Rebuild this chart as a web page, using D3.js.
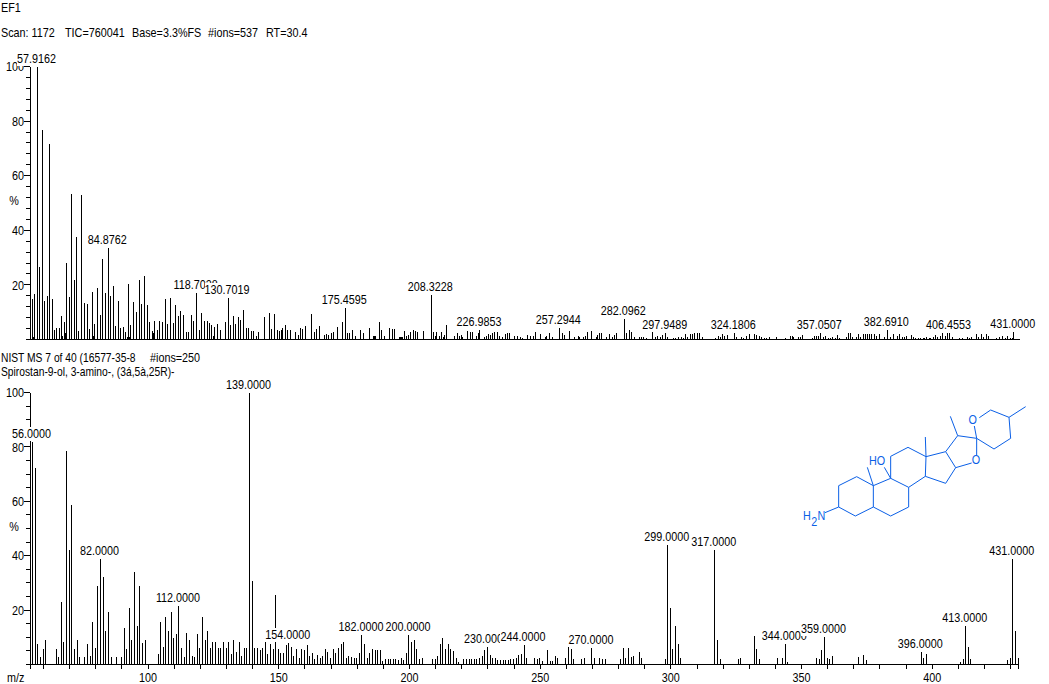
<!DOCTYPE html>
<html>
<head>
<meta charset="utf-8">
<script src="https://cdn.jsdelivr.net/npm/d3@7"></script>
<style>
html,body{margin:0;padding:0;background:#fff;overflow:hidden}
svg{display:block}
text{font-family:"Liberation Sans",Arial,sans-serif;font-size:13px;fill:#000}
</style>
</head>
<body>
<svg id="c" width="1049" height="684"></svg>
<script>
// Upper spectrum: measured scan
const topMz = [
55.9,56.3,56.7,57.9162,58.6,59.7,60.5,61.6,62.4,63.5,64.3,65.2,66.2,67,68.1,68.9,70,70.8,71.9,72.7,73.5,74.6,75.9,76.9,77.7,78.8,79.6,80.7,81.9,82.7,83.8,84.8762,
85.7,86.9,87.6,88.8,89.5,90.7,91.4,92.6,93.4,94.5,95.6,96.8,97.6,98.7,99.9,100.6,101.8,102.5,103.7,104.4,105.6,106.7,107.5,108.6,109.8,110.6,111.7,112.5,113.6,114.8,115.5,116.7,117.4,118.7028,
119.7,120.5,121.6,122.8,123.6,124.3,125.5,126.6,127.8,129.8,130.7019,131.6,132.7,133.5,134.6,135.4,136.5,137.7,138.5,139.6,140.4,141.5,142.3,
60.7,62.6,67.4,68.5,79.2,92.1,93,102.1,125.1,141.7,
144.6,146.5,147.3,148.4,149.5,150.3,151.1,151.5,152.6,153.4,154.5,156.4,157.6,158.3,159.1,160.2,162.5,163.7,164.5,165.6,167.5,168.3,169,170.2,171,172.5,174.4,175.4595,176.3,177.1,178.2,179.4,181.3,182.4,184.7,186.2,186.6,187,188.5,189.3,190.4,192.4,193.5,194.3,196.2,196.6,197,197.3,198.1,198.9,199.6,200.4,201.5,202.3,203,205.4,208.3228,
209.2,209.9,210.3,211.5,212.2,213,213.4,214.1,217.2,218.4,219.1,219.9,220.3,222.2,223.3,224.1,225.6,226.4,226.9853,228.7,229.4,230.2,231,231.7,232.5,233.6,234.4,235.6,236.7,237.5,238.2,240.1,241.3,242.4,243.2,245.1,246.3,247.4,248.2,250.1,252,252.4,253.5,254.7,257.2944,258.5,259.3,261.2,263.1,264.6,265,266.5,267.3,268,269.6,271.5,271.9,272.6,273.4,275.3,276.5,277.6,278.4,279.1,282.0962,283,284.1,284.9,286,287.9,288.7,289.5,290.6,
292.9,294,294.8,296,296.7,297.9489,298.6,300.9,301.7,302.8,304,304.7,305.5,306.3,307.4,308.2,308.9,310.1,310.9,312,314.3,315.1,316.2,317,318.1,318.9,319.7,320.4,321.6,324.1806,324.9,326.9,327.7,328.8,330,331.9,332.6,333.8,334.6,335.7,336.5,337.6,338.4,340.3,341.1,
342.5,343.6,345.5,346.3,347,348.6,349.3,350.1,353.9,354.7,355.5,356.2,357.0507,358.1,358.9,360,360.8,361.6,362.7,363.5,364.3,366.9,367.7,368.5,369.2,370.8,371.5,372.3,373.4,374.2,375,375.7,376.5,377.6,378.4,379.5,381.5,382.691,383.7,384.9,386.4,387.2,388.3,389.1,389.9,
391.8,392.5,393.3,394.5,395.2,396.4,396.8,397.5,398.7,399.1,400.2,401,401.7,402.9,403.6,404.8,405.5,406.4553,407.5,410.1,411.3,412.4,413.2,414,414.7,416.6,417.4,418.5,419.3,420.5,421.2,424.3,425.4,426.6,427.7,428.5,429.6,430.4,431
];
const topPct = [
15.2,1.2,16.8,100,26.8,77,14.4,16.2,71.7,15,3.8,4.4,4.4,8.9,6.7,28.2,15.6,53.4,22,37.8,3.4,53.2,13.7,13.3,4,17.7,5.9,19.1,9.3,29.6,17.3,33.7,
16.3,19.9,5.2,14.4,4.4,4.9,3,20.6,5.6,14,10.4,22,13.3,23.5,12.9,6.7,3.4,7,3.8,7,6.7,15,5.9,15.5,6.3,12.9,8.9,10.7,9.3,3,3,9.3,7,17.3,
3.8,10,7,7,6.3,5.6,4.9,6,3.8,6.7,15.5,5.6,8.9,6,8.5,7.4,11.1,4.5,4.5,3.4,3.4,1.6,3,
1,1,1.5,2.4,1.5,1,1,2.5,1.5,1,
8.5,10,4.1,9.6,3.8,3.4,3.8,4.5,5.6,3.8,3.8,3,2,4.5,4.1,5.2,9.6,3,4.1,5.2,2,2.3,2,2.7,3,4.9,6.7,11.8,2.7,2.7,3.8,1.6,3.8,2.7,4.5,1.6,1.6,1.6,6.7,3.8,1.6,4.5,4.1,4.1,1,1,1,1.2,3.4,1.6,2,3,3.8,3.4,3,3.4,16.6,
3,1.6,3,1.6,3,1.2,2,5.6,1.6,2.7,1.6,2,1.2,3.4,3,3,1.6,2.7,3.8,1.2,1.6,2.3,2,2.7,3,3,1.6,1.2,2.3,2.7,2.7,1.6,1.6,1.2,0.8,2,1.6,1.6,3,2.3,1.2,1.6,2.7,1.2,4.5,2.7,2,3.4,1.2,1.6,1.2,1.2,1.6,3,3.4,1.2,2,2.7,2.7,1.2,2.2,1.2,2,2.7,7.8,2.7,3.8,3,1.2,1,1.2,1.2,0.8,
2.9,1.1,1.5,1.1,1.8,2.7,1.1,0.7,0.7,1.1,1.1,0.7,2.2,1.1,2.2,2.2,2.6,2.6,2.6,1.1,0.4,0.4,0.4,0.7,1.5,1.1,2.2,1.5,1.8,2.6,1.1,1.1,0.7,1.5,2.2,2.2,1.8,1.5,1.1,0.7,0.7,1.1,0.4,1.1,0.4,
0.4,0.7,1.5,1.5,1.1,1.1,1.1,1.8,0.7,1.5,1.5,1.5,2.4,1.1,1.5,0.7,0.7,1.1,0.7,1.8,0.7,1.1,2.4,2.4,1.1,1.1,2.2,1.1,2.2,2.2,2.2,2.2,2.2,2.2,1.5,2.2,1.1,3.8,1.1,2.2,1.5,2.2,1.1,1.1,1.5,
1.8,1.1,0.9,0.7,0.7,0.7,0.7,1.1,0.7,0.7,1.1,1.8,1.1,1.5,2.4,1.5,2.7,2.5,1.1,0.7,0.7,0.5,1,0.7,1.1,2.2,1.1,2.2,1.1,2.2,1.5,0.7,1.1,1.5,0.7,1.5,0.7,0.7,3
];
const topLabelled = [57.9162,84.8762,118.7028,130.7019,175.4595,208.3228,226.9853,257.2944,282.0962,297.9489,324.1806,357.0507,382.691,406.4553,431];

// Lower spectrum: library match
const libMz = [
56,57,58,59,60,61,65,66,67,68,69,70,71,72,73,74,76,77,78,79,80,81,82,83,84,85,86,88,90,91,92,93,94,95,96,97,98,99,
104,105,106,107,108,109,110,111,112,113,114,115,116,117,118,119,120,121,122,123,124,125,126,127,128,129,130,131,132,133,134,135,136,137,138,139,140,141,142,143,144,145,146,
147,148,149,150,151,152,153,154,155,156,157,158,159,160,161,162,163,164,165,166,167,168,169,170,171,172,173,174,175,176,177,178,179,180,181,182,183,184,185,186,187,188,189,190,191,192,193,194,195,196,197,198,199,200,201,202,203,204,205,
209,210,211,212,213,214,215,216,217,218,219,221,222,223,224,225,226,227,228,229,230,231,232,233,234,235,236,237,238,239,240,241,242,243,244,245,248,249,250,251,253,254,255,256,257,260,261,262,263,266,267,270,271,273,274,275,281,282,283,284,285,286,288,289,298,
299,300,301,302,303,304,317,318,319,326,327,332,333,334,341,343,344,345,356,357,358,359,360,361,362,372,374,375,396,397,398,411,412,413,414,415,429,430,431,432,433
];
const libPct = [
82.1,72.3,7.8,2.8,5.9,9.3,5.9,2.8,23.3,8.6,78.8,42.4,58.9,5.9,9.3,2.8,2.8,7.7,3.4,15.9,6.1,29.2,39,32.5,12.6,19.4,2.8,2.8,2.8,13.5,5.9,20.8,9.3,34.3,14.5,29.2,8,9.3,
4.2,15.9,6.7,17.8,12.6,19.4,10,11.3,21.8,6.1,2.8,11.9,9.3,3.4,2.8,11.3,6.1,17.8,9.3,12.6,6.1,8.6,8.6,6.1,6.1,8.6,6.1,8.6,4.2,9.3,4.7,8.6,3.4,6.1,6.1,100,31,6.4,6.1,5.6,6.1,8.6,4.2,
7.7,6,25.9,6,4.5,4.5,7.4,8.2,6.7,3.4,6,2.7,6,5.6,7.5,3.4,4.5,2.3,3.8,2.7,3.4,6,4.9,2.7,6,4.5,6.4,7.8,8.6,2.7,3.4,2.9,2.7,2.7,4.5,11.2,7.8,2.7,4.5,6,5.6,5.6,5.6,1.6,2.3,2.3,2.3,2.3,2.3,2,2.7,2,4.5,11.2,8.6,9.3,6,2.3,2.7,
2.3,2.3,3.4,7.8,10,6,7.8,6,5.3,2.7,1.2,2.3,2.3,2.3,2.3,2.3,2.3,2.7,3.4,5.6,6.7,3.8,2.7,2.7,2,2,2,2,2,2.3,2.3,2.7,3.8,4,7.5,2.7,2.7,2.3,2.7,1.6,5.6,1.6,1.6,3.4,2.7,2.7,6.7,6,2.3,2.3,2.7,6.4,2.7,2.7,2.3,2.3,2.3,6.4,2.7,6.4,3,3.4,4.9,2.7,2.3,
44.1,21,6,14.5,7.8,2.7,42.3,9.3,2.3,2.3,2.7,10.8,6,2.3,2.7,2.7,7.8,1.2,2.7,2.3,5.6,10.4,2.7,2.3,3.4,3,3.8,2,4.9,2.7,4.2,1.2,2.3,14.5,6.7,2.3,2,2.7,39,12.6,2.7
];
const libLabelled = [56,82,112,139,154,182,200,230,244,270,299,317,344,359,396,413,431];

const mzDomain = [55, 433];
const pctDomain = [0, 100];
const mzTicks = [60,70,80,90,100,110,120,130,140,150,160,170,180,190,200,210,220,230,240,250,260,270,280,290,300,310,320,330,340,350,360,370,380,390,400,410,420,430];
const mzTickLabels = [100,150,200,250,300,350,400];
const pctTicks = [20,40,60,80,100];

const headerLines = [
  ["EF1"],
  ["Scan: 1172","TIC=760041","Base=3.3%FS","#ions=537","RT=30.4"],
  ["NIST MS 7 of 40 (16577-35-8","#ions=250"],
  ["Spirostan-9-ol, 3-amino-, (3á,5à,25R)-"]
];
const percentSign = "%";
const axisName = "m/z";

const svg = d3.select("#c");
const NARROW = 0.83;

function narrow(node, factor) {
  const w = node.getComputedTextLength();
  const f = factor || NARROW;
  node.setAttribute("lengthAdjust", "spacingAndGlyphs");
  node.setAttribute("textLength", (w * f).toFixed(2));
  node.classList.add("done");
  return w * f;
}
function put(s, x, y, anchor) {
  return svg.append("text").attr("x", x).attr("y", y).attr("text-anchor", anchor || "start").text(s);
}

// header text
put(headerLines[0][0], 1, 12);
[1,65,132,208,266].forEach((x,i) => put(headerLines[1][i], x, 37));
narrow(put(headerLines[2][0], 1, 362).node(), 0.79);
put(headerLines[2][1], 150, 362);
narrow(put(headerLines[3][0], 1, 376).node(), 0.79);

function panel(opt) {
  const x = d3.scaleLinear().domain(mzDomain).range([30, opt.xEnd]);
  const y = d3.scaleLinear().domain(pctDomain).range([opt.y0, opt.y100]);
  const g = svg.append("g").attr("shape-rendering", "crispEdges");

  // peaks
  const peaks = opt.mz.map((m, i) => ({mz: m, pct: opt.pct[i]}));
  g.append("g").selectAll("line").data(peaks).join("line")
    .attr("x1", d => Math.floor(x(d.mz)) + 0.5)
    .attr("x2", d => Math.floor(x(d.mz)) + 0.5)
    .attr("y1", y(0) + 0.5)
    .attr("y2", d => Math.round(y(d.pct)) + 0.5)
    .attr("stroke", "#000").attr("stroke-width", 1);

  // y axis: minor then major
  const ya = g.append("g").attr("transform", "translate(30,0)");
  const minors = d3.range(0, 101, opt.minorStep);
  ya.append("g").call(d3.axisLeft(y).tickValues(minors).tickSize(4).tickSizeOuter(0).tickFormat(""));
  const maj = ya.append("g").call(d3.axisLeft(y).tickValues(pctTicks).tickSize(6).tickSizeOuter(0).tickPadding(0));
  maj.selectAll("text").attr("x", -6).attr("dy", "0.36em");
  g.selectAll(".domain").attr("stroke", "#000");
  g.selectAll(".tick line").attr("stroke", "#000");

  // x axis
  const xa = g.append("g").attr("transform", `translate(0,${opt.y0})`);
  const axisB = d3.axisBottom(x).tickSizeOuter(0).tickPadding(4);
  if (opt.xTicks) {
    axisB.tickValues(mzTicks).tickSize(5).tickFormat(d => mzTickLabels.includes(d) ? d : "");
  } else {
    axisB.tickValues([]).tickSize(0);
  }
  xa.call(axisB);
  xa.select(".domain").attr("stroke", "#000");
  xa.selectAll(".tick line").attr("stroke", "#000");
  xa.selectAll("text").attr("y", 9).attr("dy", "0.71em");
  g.selectAll("g").attr("font-family", null).attr("font-size", null);
  g.selectAll("text").style("shape-rendering", "auto");

  // "%" sign
  put(percentSign, 14, opt.pctY, "middle");

  // peak labels, each with a white plate, later ones covering earlier ones
  opt.labelled.forEach(m => {
    const p = peaks.find(d => d.mz === m);
    const s = m.toFixed(4);
    const base = Math.round(y(p.pct)) - 3;
    const cx = x(m) - 1;
    const t = put(s, cx, base, "middle");
    const w = narrow(t.node());
    svg.insert("rect", () => t.node())
      .attr("x", Math.round(cx - w / 2)).attr("y", base - 11)
      .attr("width", Math.ceil(w)).attr("height", 14)
      .attr("fill", "#fff");
  });
}

panel({mz: topMz, pct: topPct, labelled: topLabelled, xEnd: 1019, y0: 339, y100: 66, minorStep: 4, xTicks: false, pctY: 205});
panel({mz: libMz, pct: libPct, labelled: libLabelled, xEnd: 1018, y0: 664, y100: 392, minorStep: 5, xTicks: true, pctY: 531});
put(axisName, 7, 682);

// Structure drawing (decoration, not data)
(function molecule() {
  const blue = "#0a5fe6";
  const sx = v => 790 + v / 3, sy = v => 395 + v / 3;
  const chains = [
    [[146,272],[200,245],[250,272],[250,336],[196,363],[146,336],[146,272]],
    [[250,272],[302,250],[356,277],[356,336],[302,363],[250,336]],
    [[302,250],[302,184],[354,157],[408,185],[406,244],[356,277]],
    [[408,185],[467,170],[497,218],[467,265],[406,244]],
    [[467,170],[503,122],[560,130],[612,162],[662,130],[657,67],[602,45],[568,68]],
    [[497,218],[545,204]],
    [[560,130],[560,180]],
    [[553,93],[560,130]],
    [[146,336],[105,353]],
    [[250,272],[232,217]],
    [[302,250],[283,217]],
    [[408,185],[406,126]],
    [[503,122],[481,64]],
    [[657,67],[707,35]]
  ];
  const line = d3.line().x(p => sx(p[0])).y(p => sy(p[1]));
  svg.append("g").selectAll("path").data(chains).join("path")
    .attr("d", line).attr("fill", "none").attr("stroke", blue).attr("stroke-width", 1);
  const lbl = (s, x, y, a, fs) => put(s, sx(x), sy(y), a).style("fill", blue).style("font-size", (fs || 13) + "px");
  lbl("HO", 261, 209, "middle");
  lbl("O", 558, 208, "middle");
  lbl("O", 548, 88, "middle");
  lbl("H", 51, 374, "middle");
  lbl("2", 73, 394, "middle", 13);
  lbl("N", 94, 374, "middle");
})();

// every remaining text gets the same condensed width as the reference's bitmap font
svg.selectAll("text").filter(function(){ return !this.classList.contains("done") && this.textContent; })
   .each(function(){ narrow(this); });
</script>
</body>
</html>
